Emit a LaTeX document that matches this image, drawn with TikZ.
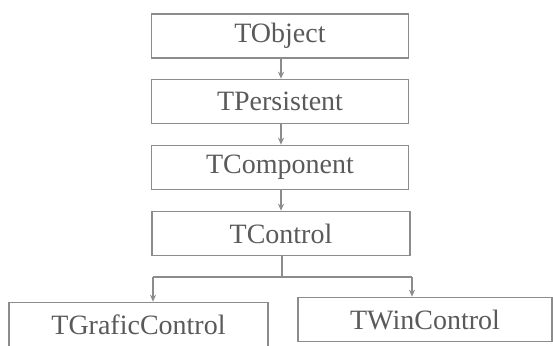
\documentclass[tikz,border=0pt]{standalone}
\usepackage{fontspec}
\setmainfont{Liberation Serif}
\usetikzlibrary{arrows.meta}
\definecolor{linegray}{RGB}{140,140,140}
\definecolor{textgray}{RGB}{90,90,90}
\tikzset{
  classbox/.style={draw=linegray, line width=1.6pt, fill=white, inner sep=0pt,
    minimum height=44pt, text=textgray, font=\fontsize{28}{30}\selectfont},
  inherit/.style={draw=linegray, line width=1.2pt,
    -{Stealth[length=7pt,width=6pt]}},
  wire/.style={draw=linegray, line width=1.2pt}
}
\begin{document}
\begin{tikzpicture}[x=1pt,y=1pt]
  \useasboundingbox (0,0) rectangle (553,345);
  \fill[white] (0,0) rectangle (553,345);
  \begin{scope}
    \clip (0,0) rectangle (553,345);
    % class hierarchy, top to bottom
    \node[classbox, minimum width=257pt] (obj)  at (280,309)   {TObject};
    \node[classbox, minimum width=257pt] (pers) at (280,243.5) {TPersistent};
    \node[classbox, minimum width=257pt] (comp) at (280,177.5) {TComponent};
    \node[classbox, minimum width=258pt] (ctrl) at (281,111.5) {TControl};
    \node[classbox, minimum width=259pt] (graf) at (138.5,20.5) {TGraficControl};
    \node[classbox, minimum width=254pt] (win)  at (425,25.5)  {TWinControl};

    % inheritance links
    \draw[inherit] (obj.south -| 281,0)  -- (pers.north -| 281,0);
    \draw[inherit] (pers.south -| 281,0) -- (comp.north -| 281,0);
    \draw[inherit] (comp.south -| 281,0) -- (ctrl.north -| 281,0);

    \coordinate (fork)  at (282,68);
    \coordinate (forkl) at (153,68);
    \coordinate (forkr) at (412,68);
    \draw[wire] (ctrl.south -| fork) -- (fork);
    \draw[wire] (forkl) -- (forkr);
    \draw[inherit] (forkl) -- (forkl |- graf.north);
    \draw[inherit] (forkr) -- (forkr |- win.north);
  \end{scope}
\end{tikzpicture}
\end{document}
